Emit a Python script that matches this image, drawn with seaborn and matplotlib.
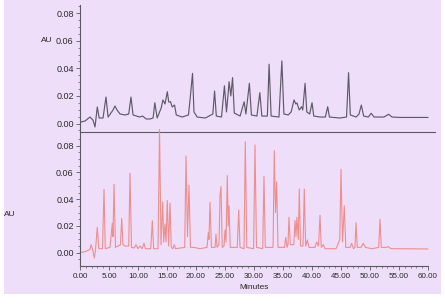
import numpy as np
import pandas as pd
import matplotlib
matplotlib.use("Agg")
import matplotlib.pyplot as plt
from matplotlib.ticker import MultipleLocator, FormatStrFormatter
from matplotlib.patches import Rectangle
import seaborn as sns

# ---- data (vertices) ----
top_time = [0.0, 0.86, 1.72, 2.24, 2.59, 2.98, 3.3, 3.97, 4.48, 4.85, 5.69, 6.03, 6.38, 6.9,
            7.76, 8.4, 8.79, 9.15, 10.3, 10.8, 11.4, 12.1, 12.6, 12.9, 13.3, 14.0, 14.3, 14.66,
            15.05, 15.3, 15.6, 15.9, 16.3, 16.6, 17.6, 18.7, 19.0, 19.4, 19.65, 20.2, 21.6, 22.9,
            23.2, 23.5, 24.4, 24.9, 25.25, 25.5, 25.7, 26.0, 26.3, 26.6, 27.6, 28.3, 28.6, 29.2,
            29.55, 30.5, 31.0, 31.35, 32.3, 32.6, 32.95, 34.3, 34.8, 35.15, 35.9, 36.4, 36.9, 37.2,
            37.4, 37.8, 38.2, 38.4, 38.8, 39.1, 39.6, 40.0, 40.3, 41.4, 42.3, 42.7, 43.0, 44.8,
            45.95, 46.3, 46.6, 47.6, 48.1, 48.5, 48.9, 49.7, 50.2, 50.7, 52.4, 53.2, 53.8, 55.2, 60.0]
top_au = [0.0009, 0.0018, 0.0047, 0.0025, -0.0025, 0.0120, 0.0040, 0.0040, 0.0192, 0.0047,
          0.0098, 0.0127, 0.0098, 0.0069, 0.0062, 0.0069, 0.0192, 0.0062, 0.0047, 0.0054,
          0.0033, 0.0033, 0.0040, 0.0151, 0.0040, 0.0113, 0.0171, 0.0142, 0.0231, 0.0156,
          0.0158, 0.0120, 0.0134, 0.0062, 0.0047, 0.0062, 0.0185, 0.0364, 0.0084, 0.0047,
          0.0040, 0.0069, 0.0236, 0.0054, 0.0047, 0.0274, 0.0084, 0.0200, 0.0303, 0.0200,
          0.0333, 0.0076, 0.0054, 0.0158, 0.0069, 0.0292, 0.0062, 0.0054, 0.0224, 0.0054,
          0.0054, 0.0430, 0.0054, 0.0047, 0.0454, 0.0069, 0.0062, 0.0084, 0.0171, 0.0142,
          0.0149, 0.0098, 0.0122, 0.0098, 0.0292, 0.0084, 0.0069, 0.0151, 0.0054, 0.0047,
          0.0047, 0.0122, 0.0047, 0.0040, 0.0047, 0.0369, 0.0062, 0.0047, 0.0069, 0.0134,
          0.0054, 0.0047, 0.0074, 0.0047, 0.0047, 0.0067, 0.0047, 0.0044, 0.0044]

bot_time = [0.0, 1.03, 1.72, 1.9, 2.15, 2.47, 2.67, 2.98, 3.24, 3.88, 4.14, 4.36, 5.17, 5.57,
            5.69, 5.86, 6.12, 6.55, 6.98, 7.19, 7.41, 7.76, 8.4, 8.62, 8.88, 9.31, 9.66, 10.0,
            10.34, 10.69, 11.03, 11.29, 12.2, 12.47, 12.69, 13.45, 13.71, 13.97, 14.26, 14.43,
            14.66, 14.83, 15.05, 15.28, 15.52, 15.74, 16.03, 16.26, 16.47, 18.05, 18.28, 18.53,
            18.79, 19.05, 19.66, 20.69, 21.9, 22.12, 22.24, 22.41, 22.67, 23.28, 23.45, 23.62,
            23.97, 24.14, 24.31, 24.53, 24.83, 25.0, 25.17, 25.4, 25.55, 25.69, 25.9, 27.12,
            27.36, 27.59, 28.28, 28.5, 28.76, 29.93, 30.17, 30.43, 31.5, 31.72, 31.95, 33.28,
            33.5, 33.71, 33.91, 34.14, 35.26, 35.47, 35.69, 35.86, 36.03, 36.26, 36.86, 37.07,
            37.24, 37.4, 37.64, 37.81, 38.02, 38.45, 38.67, 38.9, 39.19, 39.48, 40.52, 40.81,
            41.12, 41.38, 41.6, 41.95, 42.24, 44.14, 44.53, 44.79, 45.0, 45.26, 45.57, 45.83,
            46.55, 46.84, 47.16, 47.41, 47.59, 47.81, 48.45, 48.84, 49.22, 50.34, 51.5, 51.72,
            51.95, 52.76, 53.16, 53.62, 55.17, 60.0]
bot_au = [0.0, 0.001, 0.0025, 0.006, 0.003, -0.004, 0.002, 0.019, 0.003, 0.003, 0.0474, 0.003,
          0.004, 0.022, 0.012, 0.0512, 0.004, 0.005, 0.006, 0.0257, 0.006, 0.005, 0.005, 0.0594,
          0.004, 0.0035, 0.006, 0.003, 0.005, 0.003, 0.007, 0.003, 0.003, 0.024, 0.003, 0.003,
          0.0921, 0.006, 0.038, 0.008, 0.0215, 0.008, 0.039, 0.005, 0.037, 0.004, 0.003, 0.006,
          0.003, 0.004, 0.0723, 0.012, 0.0506, 0.004, 0.004, 0.003, 0.004, 0.015, 0.010, 0.0377,
          0.004, 0.004, 0.014, 0.004, 0.006, 0.043, 0.0494, 0.004, 0.005, 0.017, 0.008, 0.0576,
          0.020, 0.035, 0.004, 0.004, 0.032, 0.004, 0.003, 0.083, 0.004, 0.003, 0.0806, 0.004,
          0.003, 0.0569, 0.004, 0.004, 0.0763, 0.030, 0.053, 0.004, 0.004, 0.0115, 0.004, 0.006,
          0.0265, 0.006, 0.006, 0.024, 0.012, 0.0265, 0.010, 0.0476, 0.005, 0.005, 0.0476, 0.005,
          0.0095, 0.004, 0.004, 0.008, 0.005, 0.028, 0.004, 0.006, 0.003, 0.003, 0.007, 0.010,
          0.0624, 0.008, 0.035, 0.004, 0.004, 0.007, 0.003, 0.004, 0.0224, 0.004, 0.004, 0.007,
          0.004, 0.003, 0.004, 0.025, 0.004, 0.004, 0.0045, 0.003, 0.003, 0.0028]

y_ticks = [0.00, 0.02, 0.04, 0.06, 0.08]
x_ticks = [0, 5, 10, 15, 20, 25, 30, 35, 40, 45, 50, 55, 60]

# ---- style ----
sns.set_style("ticks")
plt.rcParams['font.family'] = ['Liberation Sans', 'DejaVu Sans']
BG = '#EFDEF9'
AXC = '#5a5a62'
TXT = '#2a2a2a'
TOP_C = '#5f5a6a'
BOT_C = '#EE8E8E'

W, H = 445, 305
fig = plt.figure(figsize=(W / 100, H / 100), dpi=100, facecolor='white')
fig.patches.append(Rectangle((4 / W, 1 - 294 / H), 437 / W, 294 / H,
                             transform=fig.transFigure, facecolor=BG,
                             edgecolor='none', zorder=-10))

def fx(px):
    return px / W

def fy(py):
    return 1 - py / H

# top panel: x 80..435 px, y 5..131.5 px
ax1 = fig.add_axes([fx(80), fy(131.5), fx(435) - fx(80), fy(5) - fy(131.5)])
# bottom panel: x 80..428 px, y 133..265.7 px
ax2 = fig.add_axes([fx(80), fy(265.7), fx(428) - fx(80), fy(133) - fy(265.7)])

df_top = pd.DataFrame({'t': top_time, 'au': top_au})
df_bot = pd.DataFrame({'t': bot_time, 'au': bot_au})

sns.lineplot(data=df_top, x='t', y='au', ax=ax1, color=TOP_C, linewidth=0.85,
             estimator=None, sort=False)
sns.lineplot(data=df_bot, x='t', y='au', ax=ax2, color=BOT_C, linewidth=0.8,
             estimator=None, sort=False)
for ln in ax2.lines:
    ln.set_clip_on(False)

for ax in (ax1, ax2):
    ax.set_facecolor('none')
    for s in ('top', 'right'):
        ax.spines[s].set_visible(False)
    for s in ('left', 'bottom'):
        ax.spines[s].set_color(AXC)
        ax.spines[s].set_linewidth(0.8)
    ax.set_xlabel('')
    ax.set_ylabel('')
    ax.set_yticks(y_ticks)
    ax.yaxis.set_major_formatter(FormatStrFormatter('%.2f'))
    ax.yaxis.set_minor_locator(MultipleLocator(0.005))
    ax.tick_params(axis='y', which='major', direction='out', length=3, width=0.6,
                   color=AXC, labelsize=6.5, labelcolor=TXT, pad=1.5)
    ax.tick_params(axis='y', which='minor', direction='out', length=1.6, width=0.5,
                   color=AXC)

ax1.set_xlim(0, 61.2)
ax1.set_ylim(-0.0058, 0.086)
ax1.set_xticks([])
ax1.tick_params(axis='x', which='both', length=0)
ax1.grid(False)

ax2.set_xlim(0, 60)
ax2.set_ylim(-0.0097, 0.0895)
ax2.set_xticks(x_ticks)
ax2.xaxis.set_major_formatter(FormatStrFormatter('%.2f'))
ax2.xaxis.set_minor_locator(MultipleLocator(1))
ax2.tick_params(axis='x', which='major', direction='out', length=3, width=0.6,
                color=AXC, labelsize=5.8, labelcolor=TXT, pad=2)
ax2.tick_params(axis='x', which='minor', direction='out', length=1.6, width=0.5,
                color=AXC)
ax2.grid(False)

ax2.set_xlabel('Minutes', fontsize=6, color=TXT, labelpad=3)

fig.text(fx(47), fy(41), 'AU', fontsize=6, color=TXT, ha='center', va='center')
fig.text(fx(10), fy(215), 'AU', fontsize=6, color=TXT, ha='center', va='center')

fig.savefig('out.png', dpi=100, facecolor='white')
